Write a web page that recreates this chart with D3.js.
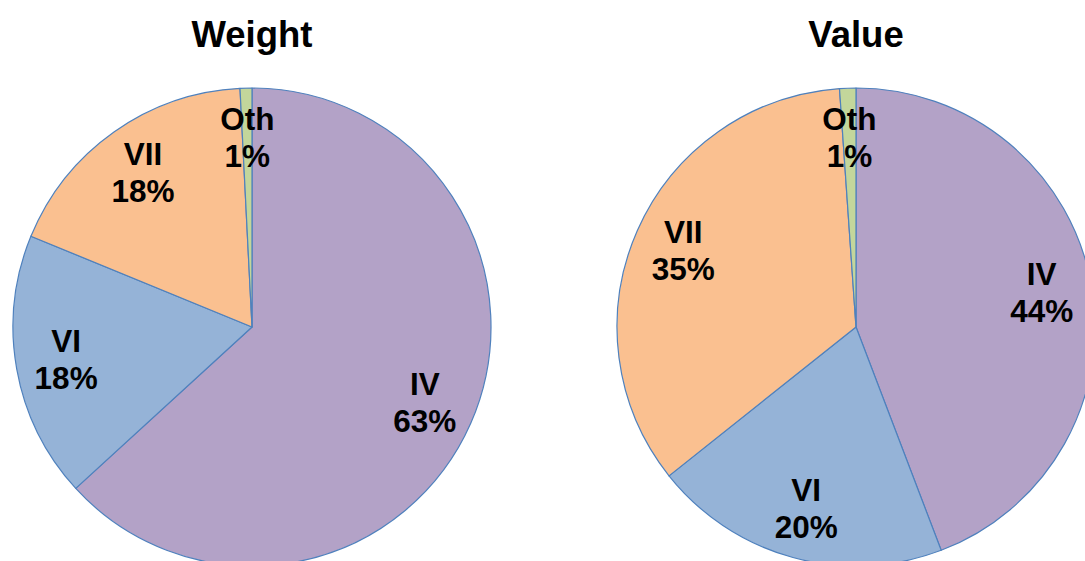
<!DOCTYPE html>
<html>
<head>
<meta charset="utf-8">
<script src="https://cdn.jsdelivr.net/npm/d3@7/dist/d3.min.js"></script>
<style>
html,body{margin:0;padding:0;background:#fff;overflow:hidden;}
svg{display:block;}
</style>
</head>
<body>
<svg id="chart" width="1085" height="561"></svg>
<script>
const categories = ["IV", "VI", "VII", "Oth"];
const weightValues = [63.2, 18.0, 18.0, 0.8];
const valueValues = [44.2, 20.1, 34.6, 1.1];
const chartTitles = ["Weight", "Value"];
const colors = ["#B3A2C7", "#95B3D7", "#FAC090", "#C3D69B"];

const svg = d3.select("#chart");
const radius = 239;
const centersX = [252, 856];
const centerY = 327;

const color = d3.scaleOrdinal().domain(categories).range(colors);
const pie = d3.pie().sort(null).value(d => d.v);
const arc = d3.arc().innerRadius(0).outerRadius(radius);
const labelArc = d3.arc().innerRadius(radius * 0.79).outerRadius(radius * 0.79);

[weightValues, valueValues].forEach((vals, i) => {
  const data = categories.map((c, j) => ({ c, v: vals[j] }));
  const total = d3.sum(vals);
  const g = svg.append("g").attr("transform", `translate(${centersX[i]},${centerY})`);
  const arcs = pie(data);
  g.selectAll("path").data(arcs).enter().append("path")
    .attr("d", arc)
    .attr("fill", d => color(d.data.c))
    .attr("stroke", "#4F81BD")
    .attr("stroke-width", 1.2)
    .attr("stroke-linejoin", "round");
  const lab = g.selectAll("text.lab").data(arcs).enter().append("text")
    .attr("class", "lab")
    .attr("transform", d => {
      const [x, y] = labelArc.centroid(d);
      return `translate(${x},${y})`;
    })
    .attr("text-anchor", "middle")
    .style("font-family", "'Liberation Sans', Arial, sans-serif")
    .style("font-weight", "bold")
    .style("font-size", "31.5px")
    .attr("fill", "#000");
  lab.append("tspan").attr("x", 0).attr("y", -8).text(d => d.data.c);
  lab.append("tspan").attr("x", 0).attr("y", 29).text(d => Math.round(d.data.v / total * 100) + "%");

  svg.append("text")
    .attr("x", centersX[i])
    .attr("y", 47)
    .attr("text-anchor", "middle")
    .style("font-family", "'Liberation Sans', Arial, sans-serif")
    .style("font-weight", "bold")
    .style("font-size", "36.5px")
    .attr("fill", "#000")
    .text(chartTitles[i]);
});
</script>
</body>
</html>
